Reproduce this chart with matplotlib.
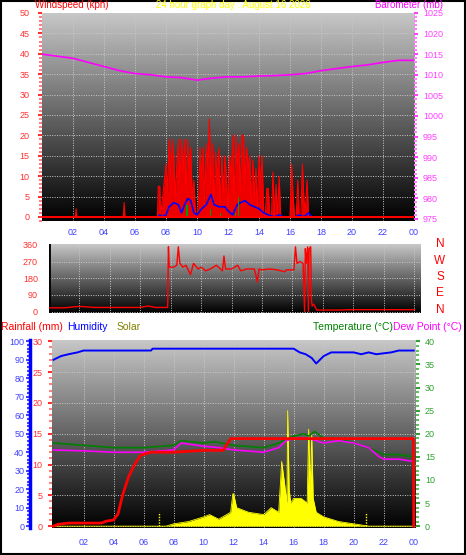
import matplotlib
matplotlib.use("Agg")
import matplotlib.pyplot as plt
import numpy as np
from matplotlib.ticker import MultipleLocator

plt.rcParams['font.family'] = ['Liberation Sans', 'DejaVu Sans']

hour_ticks = [2, 4, 6, 8, 10, 12, 14, 16, 18, 20, 22, 24]
hour_labels = ['02', '04', '06', '08', '10', '12', '14', '16', '18', '20', '22', '00']

# ---- top panel: wind ----
gust_t = [0, 2.15, 2.2, 2.25, 5.25, 5.3, 5.35, 7.45, 7.5, 7.6, 7.65,
          8.0, 8.1, 8.2, 8.3, 8.4, 8.5, 8.6, 8.7, 8.8, 8.9, 9.0, 9.1, 9.2, 9.3, 9.4, 9.5, 9.6, 9.7, 9.8, 9.9,
          10.0, 10.1, 10.2, 10.3, 10.4, 10.5, 10.6, 10.7, 10.8, 10.9, 11.0, 11.1, 11.2, 11.3, 11.4, 11.5, 11.6, 11.7, 11.8, 11.9,
          12.0, 12.1, 12.2, 12.3, 12.4, 12.5, 12.6, 12.7, 12.8, 12.9, 13.0, 13.1, 13.2, 13.3, 13.4, 13.5, 13.6, 13.7, 13.8, 13.9,
          14.0, 14.1, 14.2, 14.3, 14.4, 14.5, 14.6, 14.7, 14.8, 14.9, 15.0, 15.1, 15.2, 15.3, 15.4, 15.5, 15.6, 15.7, 15.8, 15.9,
          16.0, 16.1, 16.2, 16.3, 16.4, 16.5, 16.6, 16.7, 16.8, 16.9, 17.0, 17.1, 17.2, 17.3, 17.4, 24]
gust_v = [0, 0, 2, 0, 0, 3.5, 0, 0, 7.5, 7.5, 0,
          13, 6, 19, 10, 19, 15, 5, 13, 19, 8, 19, 11, 19, 6, 19, 12, 17, 3, 9, 1,
          0, 4, 17, 9, 17, 3, 18, 12, 24, 7, 18, 3, 16, 9, 17, 2, 15, 6, 15, 10,
          1, 15, 9, 20, 4, 20, 13, 18, 6, 20, 20, 9, 17, 12, 15, 3, 14, 5, 12, 2,
          15, 8, 15, 1, 0, 7, 7, 0, 0, 11, 0, 8, 0, 10, 0, 0, 0, 0, 0, 0,
          0, 13, 5, 0, 0, 9, 0, 0, 13, 4, 2, 9, 0, 0, 0, 0]
avg_t = [0, 7.5, 7.6, 7.7, 8.0, 8.2, 8.5, 8.8, 9.0, 9.2, 9.4, 9.6, 9.8, 10.0, 10.3, 10.6, 10.9, 11.1, 11.4, 11.8, 12.0,
         12.3, 12.6, 12.8, 13.1, 13.4, 13.7, 14.0, 14.3, 14.6, 15.0, 15.3, 15.6, 16.3, 16.6, 16.9, 17.2, 17.4, 24]
avg_v = [0, 0, 0.5, 0, 0.5, 2.5, 3.5, 3, 1, 3, 4.5, 4, 1, 0.5, 2, 3, 5.5, 3, 2.5, 2.5, 1.5,
         0.5, 3, 3.5, 4, 3, 2.5, 2, 1, 0.5, 0, 0.5, 0, 0, 0.5, 0, 1, 0, 0]
rate_t = [9.35, 10.85, 11.5, 12.5, 12.7]
rate_v = [3, 2, 1, 1, 5]
baro_t = [0, 1, 2, 3, 4, 5, 6, 7, 8, 9, 10, 11, 12, 13, 14, 15, 16, 17, 18, 19, 20, 21, 22, 23, 24]
baro_v = [1015, 1014.5, 1014, 1013, 1012, 1011, 1010.3, 1010, 1009.5, 1009.3, 1008.7, 1009.2, 1009.5, 1009.5,
          1009.7, 1009.8, 1010, 1010.3, 1011, 1011.5, 1012, 1012.4, 1013, 1013.5, 1013.5]

# ---- wind direction ----
dir_t = [0, 1, 2, 3, 4, 5, 6, 6.5, 7, 7.8, 7.85, 7.9, 8.2, 8.4, 8.5, 8.6, 8.8, 9.0, 9.3, 9.5, 9.8, 10.0, 10.3,
         10.6, 11.0, 11.4, 11.5, 11.6, 12.0, 12.4, 12.6, 13.0, 13.5, 13.7, 13.8, 14.0, 14.5, 15.0, 15.5, 15.6, 16.1,
         16.2, 16.3, 16.5, 16.7, 16.8, 16.85, 16.9, 17.0, 17.05, 17.1, 17.2, 17.25, 17.3, 17.4, 17.6, 19.0, 20.0, 24]
dir_v = [20, 20, 28, 22, 22, 22, 22, 30, 22, 22, 350, 240, 240, 250, 350, 260, 240, 250, 200, 260, 230, 240, 220,
         230, 250, 220, 300, 230, 230, 250, 220, 230, 230, 160, 230, 225, 230, 225, 215, 225, 225,
         350, 260, 270, 260, 0, 340, 260, 350, 0, 340, 350, 60, 30, 40, 8, 8, 10, 10]

# ---- bottom panel ----
hum_t = [0, 0.5, 1, 1.6, 2, 6.5, 6.6, 16, 16.4, 16.8, 17.2, 17.5, 18, 18.5, 20, 20.5, 21, 21.5, 22.5, 23, 24]
hum_v = [90, 92, 93, 94, 95, 95, 96, 96, 94, 93, 91, 88, 92, 94, 94, 93, 94, 93, 94, 95, 95]
rain_t = [0, 0.3, 1, 3.2, 3.5, 4.0, 4.3, 4.6, 5.0, 5.4, 5.8, 6.5, 8.0, 10.0, 11.3, 11.8, 23.98, 24]
rain_v = [0, 0.3, 0.5, 0.5, 0.8, 1.0, 2.0, 5.0, 8.0, 10.0, 11.5, 12.0, 12.0, 12.3, 12.3, 14.2, 14.2, 0]
temp_t = [0, 2, 4, 6, 8, 8.5, 10, 10.7, 12, 14, 15, 16, 16.7, 17, 17.4, 18, 19, 20, 21, 22, 23, 24]
temp_v = [18, 17.5, 17, 17, 17.5, 18.5, 18, 18.3, 17.5, 17, 18, 19.5, 20, 19.5, 20.5, 19, 19, 18, 17, 15.5, 15.5, 15]
dew_t = [0, 2, 4, 6, 8, 8.5, 10, 11, 12, 14, 15, 15.5, 16, 17, 17.5, 18, 19, 20, 21, 21.7, 22, 23, 24]
dew_v = [16.5, 16.3, 16, 16, 16.5, 18, 17.3, 17, 16.5, 16, 17, 18.5, 19, 19, 18.5, 18, 18.5, 18, 17, 15, 14.5, 14.5, 14]
sol_t = [0, 7.5, 8, 9, 10, 10.4, 11, 11.8, 11.95, 12, 12.2, 13, 14, 14.5, 15, 15.15, 15.2, 15.4, 15.55, 15.6, 15.7,
         15.8, 16, 16.5, 16.9, 17.0, 17.1, 17.2, 17.3, 17.5, 18, 19, 20, 21, 24]
sol_v = [0, 0, 0.5, 1, 2, 2.5, 1.5, 3, 7, 7, 4, 3, 2.5, 4, 3, 11, 14, 9, 5, 25, 8,
         5, 6, 6, 5, 21, 8, 20, 6, 3, 2, 1, 0.5, 0, 0]

W, H = 466, 555
fig = plt.figure(figsize=(W / 100, H / 100), dpi=100)
fig.patch.set_facecolor('white')
fig.add_artist(plt.Rectangle((0.002, 0.002), 0.996, 0.996, transform=fig.transFigure,
                             fill=False, edgecolor='black', lw=1.5))

def box(x0, y0, x1, y1):
    return [x0 / W, 1 - y1 / H, (x1 - x0) / W, (y1 - y0) / H]

grad = np.linspace(0.78, 0.0, 256).reshape(-1, 1)

def style(ax, xlim=(0, 24)):
    ax.imshow(grad, cmap='gray', vmin=0, vmax=1, aspect='auto', extent=[0, 1, 0, 1],
              transform=ax.transAxes, zorder=0)
    ax.set_xlim(*xlim)
    ax.grid(True, color='#c8c8c8', linestyle=(0, (1, 1.5)), lw=0.7)
    ax.set_axisbelow(True)
    for s in ax.spines.values():
        s.set_visible(False)

def bare(ax):
    for s in ax.spines.values():
        s.set_visible(False)

fs = 6.5
tfs = 7.5
blue_lab = '#4040ff'

# top
ax1 = fig.add_axes(box(42, 13, 414, 221))
style(ax1)
ax1.set_ylim(-1, 50)
ax1.fill_between(gust_t, gust_v, color='#ee0000', lw=0, zorder=2)
ax1.plot(gust_t, gust_v, color='#ff0000', lw=0.8, zorder=3)
ax1.plot(avg_t, avg_v, color='#0000ff', lw=1.2, zorder=4)
ax1.bar(rate_t, rate_v, width=0.08, color='#00a000', zorder=4)
ax1.plot([0, 24], [0, 0], color='#ff0000', lw=1.5, zorder=5)
ax1.set_xticks(hour_ticks, hour_labels)
ax1.set_yticks(range(0, 51, 5))
ax1.yaxis.set_minor_locator(MultipleLocator(1))
ax1.tick_params(axis='x', colors=blue_lab, labelsize=fs, length=0, pad=5)
ax1.tick_params(axis='y', colors='#ff3030', labelsize=fs, length=3, width=1.5, pad=6)
ax1.tick_params(axis='y', which='minor', colors='#ff8080', length=2, width=1.5)
ax1b = ax1.twinx()
ax1b.set_ylim(974.5, 1025)
ax1b.plot(baro_t, baro_v, color='#ff00ff', lw=1.2)
ax1b.set_yticks(range(975, 1026, 5))
ax1b.yaxis.set_minor_locator(MultipleLocator(1))
ax1b.tick_params(axis='y', colors='#ff40ff', labelsize=fs, length=3, width=1.5)
ax1b.tick_params(axis='y', which='minor', colors='#ff80ff', length=2, width=1.5)
bare(ax1b)

fig.text(35 / W, 1 - 5 / H, 'Windspeed (kph)', color='#ff0000', fontsize=7, va='center')
fig.text(0.5, 1 - 5 / H, '24 hour graph day : August 16 2026', color='#ffff00', fontsize=7,
         va='center', ha='center')
fig.text(443 / W, 1 - 5 / H, 'Barometer (mb)', color='#ff00ff', fontsize=7, va='center', ha='right')

# middle
ax2 = fig.add_axes(box(49, 244, 421, 313))
style(ax2, xlim=(0, 24.45))
ax2.set_ylim(-8, 365)
ax2.plot(dir_t, dir_v, color='#ff0000', lw=1.0, zorder=3)
ax2.set_xticks(hour_ticks)
ax2.set_xticklabels([])
ax2.tick_params(axis='x', length=0)
ax2.set_yticks([0, 90, 180, 270, 360])
ax2.tick_params(axis='y', colors='#ff3030', labelsize=fs, length=0, pad=8)
ax2.axvline(0, color='black', lw=2)
for i, c in enumerate(['N', 'E', 'S', 'W', 'N']):
    fig.text(440 / W, 1 - (310 - i * 16.5) / H, c, color='#ff0000', fontsize=8.5, ha='center', va='center')

# bottom
y_lab = 1 - 327 / H
fig.text(1 / W, y_lab, 'Rainfall (mm)', color='#ff0000', fontsize=tfs, va='center')
fig.text(67 / W, y_lab, 'Humidity', color='#0000ff', fontsize=tfs, va='center')
fig.text(117 / W, y_lab, 'Solar', color='#808000', fontsize=tfs, va='center')
fig.text(313 / W, y_lab, 'Temperature (°C)', color='#008000', fontsize=tfs, va='center')
fig.text(393 / W, y_lab, 'Dew Point (°C)', color='#ff00ff', fontsize=tfs, va='center')

XL3 = (-0.1, 24.15)
ax3 = fig.add_axes(box(52, 340, 416, 528))
style(ax3, xlim=XL3)
ax3.set_ylim(-0.3, 30.2)
ax3.set_xticks(hour_ticks, hour_labels)
ax3.set_yticks(range(0, 31, 5))
ax3.yaxis.set_minor_locator(MultipleLocator(1))
ax3.tick_params(axis='x', colors=blue_lab, labelsize=fs, length=0, pad=7)
ax3.tick_params(axis='y', colors='#ff3030', labelsize=fs, length=3, width=1.5, pad=4)
ax3.tick_params(axis='y', which='minor', colors='#ff8080', length=2, width=1.5)

ax3b = ax3.twinx()
ax3b.set_ylim(-0.4, 40.3)
ax3b.fill_between(sol_t, sol_v, color='#ffff00', lw=0, zorder=2)
ax3b.plot(sol_t, sol_v, color='#ffff00', lw=0.6, zorder=2)
ax3b.vlines([7.0, 20.85], 0, 3, colors='#ffff00', linestyles=(0, (1, 1)), lw=1)
ax3b.plot(temp_t, temp_v, color='#008000', lw=1.2, zorder=3)
ax3b.plot(dew_t, dew_v, color='#ff00ff', lw=1.2, zorder=3)
ax3b.set_yticks(range(0, 41, 5))
ax3b.yaxis.set_minor_locator(MultipleLocator(1))
ax3b.tick_params(axis='y', colors='#30a030', labelsize=fs, length=3, width=1.5)
ax3b.tick_params(axis='y', which='minor', colors='#60c060', length=2, width=1.5)
bare(ax3b)

ax3r = ax3.twinx()
ax3r.set_ylim(ax3.get_ylim())
ax3r.plot(rain_t, rain_v, color='#ff0000', lw=2)
ax3r.set_yticks([])
bare(ax3r)

ax3h = ax3.twinx()
ax3h.set_ylim(-1, 100.7)
ax3h.plot(hum_t, hum_v, color='#0000ff', lw=1.4)
for s in ['top', 'bottom', 'right']:
    ax3h.spines[s].set_visible(False)
ax3h.spines['left'].set_position(('outward', 16))
ax3h.spines['left'].set_color('#0000ff')
ax3h.spines['left'].set_linewidth(2.5)
ax3h.yaxis.set_ticks_position('left')
ax3h.yaxis.set_label_position('left')
ax3h.set_yticks(range(0, 101, 10))
ax3h.yaxis.set_minor_locator(MultipleLocator(2))
ax3h.tick_params(axis='y', colors='#4040ff', labelsize=fs, length=3, width=1.5, pad=1)
ax3h.tick_params(axis='y', which='minor', colors='#4040ff', length=2, width=1.5)

fig.savefig('out.png', dpi=100)
